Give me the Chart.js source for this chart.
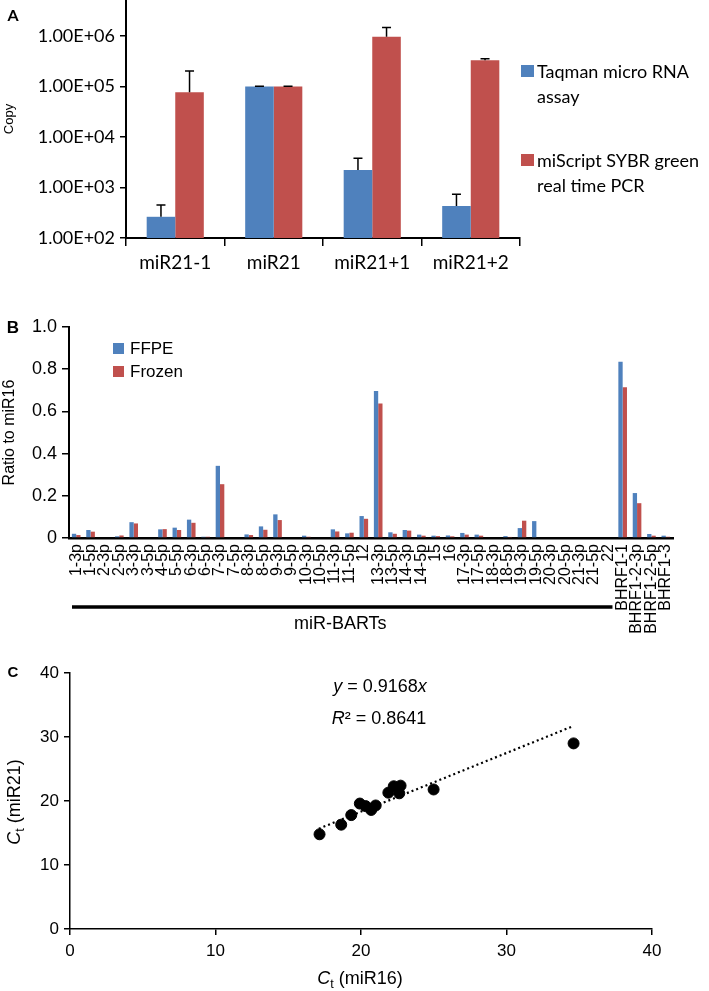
<!DOCTYPE html>
<html lang="en">
<head>
<meta charset="utf-8">
<title>miR21 copy number, miR-BART ratios and Ct correlation</title>
<script src="https://cdn.jsdelivr.net/npm/chart.js@4.4.1/dist/chart.umd.min.js"></script>
<style>
  html, body { margin: 0; background: #fff; }
  #page { position: relative; width: 709px; height: 991px; overflow: hidden;
          font-family: 'Liberation Sans', Arial, sans-serif; color: #000; }
  canvas { position: absolute; left: 0; }
  .t { position: absolute; white-space: nowrap; line-height: 1; transform: translate(-50%, -50%); }
  .l { position: absolute; white-space: nowrap; line-height: 1; transform: translateY(-50%); }
  .sw { position: absolute; }
  .tag { font-weight: bold; }
  .rot { transform: translate(-50%, -50%) rotate(-90deg); }
  sub { font-size: 0.7em; vertical-align: -0.3em; line-height: 0; }
</style>
</head>
<body>
<div id="page">
  <canvas id="chartA" width="709" height="290" style="top:0"></canvas>
  <canvas id="chartB" width="709" height="360" style="top:290px"></canvas>
  <canvas id="chartC" width="709" height="336" style="top:655px"></canvas>

  <!-- A: legend -->
  <div class="t tag" style="left:13px;top:15px;font-family:Lato;font-size:16px">A</div>
  <div class="sw" style="left:521px;top:65px;width:13px;height:12px;background:#4F81BD"></div>
  <div class="l" style="left:537px;top:71px;font-family:Lato;font-size:18px">Taqman micro RNA</div>
  <div class="l" style="left:537px;top:96px;font-family:Lato;font-size:18px">assay</div>
  <div class="sw" style="left:521px;top:154px;width:13px;height:12px;background:#C0504D"></div>
  <div class="l" style="left:537px;top:160px;font-family:Lato;font-size:18px">miScript SYBR green</div>
  <div class="l" style="left:537px;top:185px;font-family:Lato;font-size:18px">real time PCR</div>

  <!-- B: legend -->
  <div class="t tag" style="left:13px;top:327px;font-size:17px">B</div>
  <div class="sw" style="left:113px;top:343px;width:11px;height:11px;background:#4F81BD"></div>
  <div class="l" style="left:130px;top:348px;font-size:17px">FFPE</div>
  <div class="sw" style="left:113px;top:366px;width:11px;height:11px;background:#C0504D"></div>
  <div class="l" style="left:130px;top:371px;font-size:17px">Frozen</div>

  <!-- C: labels -->
  <div class="t tag" style="left:13px;top:671px;font-size:15px">C</div>
  <div class="t" style="left:380px;top:686px;font-size:18px"><i>y</i> = 0.9168<i>x</i></div>
  <div class="t" style="left:379px;top:718px;font-size:18px"><i>R</i>² = 0.8641</div>
  <div class="t rot" style="left:14px;top:802px;font-size:18px"><i>C</i><sub>t</sub> (miR21)</div>
  <div class="t" style="left:360px;top:978px;font-size:18px"><i>C</i><sub>t</sub> (miR16)</div>
</div>

<script>
Chart.defaults.animation = false;
Chart.defaults.color = '#000';
Chart.defaults.font.family = "'Liberation Sans', Arial, sans-serif";

const BLUE = '#4F81BD';
const RED = '#C0504D';

// Panel A: copy number of miR21 variants (log scale)
const constructs = ['miR21-1', 'miR21', 'miR21+1', 'miR21+2'];
const taqmanCopy = [263, 100000, 2220, 430];
const taqmanErr = [187, 1200, 1570, 303];
const sybrCopy = [76700, 100000, 968000, 330000];
const sybrErr = [126000, 1200, 512000, 25000];
const copyTicks = [1e2, 1e3, 1e4, 1e5, 1e6];

// Panel B: miR-BART / BHRF1 ratio to miR16
const bartLabels = [
  '1-3p', '1-5p', '2-3p', '2-5p', '3-3p', '3-5p', '4-5p', '5-5p', '6-3p', '6-5p',
  '7-3p', '7-5p', '8-3p', '8-5p', '9-3p', '9-5p', '10-3p', '10-5p', '11-3p', '11-5p',
  '12', '13-3p', '13-5p', '14-3p', '14-5p', '15', '16', '17-3p', '17-5p', '18-3p',
  '18-5p', '19-3p', '19-5p', '20-3p', '20-5p', '21-3p', '21-5p', '22',
  'BHRF1-1', 'BHRF1-2-3p', 'BHRF1-2-5p', 'BHRF1-3'
];
const ffpeRatio = [
  0.020, 0.038, 0, 0.008, 0.075, 0, 0.041, 0.049, 0.087, 0.006,
  0.342, 0, 0.017, 0.055, 0.112, 0, 0.011, 0, 0.041, 0.022,
  0.104, 0.697, 0.027, 0.038, 0.016, 0.011, 0.012, 0.024, 0.016, 0,
  0.009, 0.047, 0.080, 0, 0, 0, 0, 0,
  0.835, 0.213, 0.019, 0.011
];
const frozenRatio = [
  0.014, 0.030, 0, 0.012, 0.069, 0, 0.042, 0.038, 0.072, 0.006,
  0.255, 0, 0.014, 0.039, 0.085, 0, 0.006, 0, 0.031, 0.025,
  0.091, 0.638, 0.020, 0.035, 0.011, 0.009, 0.008, 0.016, 0.011, 0,
  0.005, 0.082, 0, 0, 0, 0, 0, 0,
  0.714, 0.165, 0.011, 0.006
];

// Panel C: Ct values
const ctMiR16 = [17.15, 18.64, 19.33, 19.92, 20.32, 20.70, 21.01, 21.88, 22.25, 22.72, 22.63, 24.99, 34.61];
const ctMiR21 = [14.8, 16.3, 17.8, 19.6, 19.2, 18.6, 19.3, 21.3, 22.3, 22.4, 21.2, 21.8, 29.0];
const fitSlope = 0.9168;
const fitRange = [17.1, 34.5];

// fixe la taille d'un axe pour caler la zone de tracé
function fixBox(size) {
  return s => {
    if (s.isHorizontal()) s.height = size; else s.width = size;
    s.paddingTop = s.paddingBottom = s.paddingLeft = s.paddingRight = 0;
  };
}

function sciLabel(v) {
  return Number(v).toExponential(2).toUpperCase().replace(/E([+-])(\d)$/, 'E$10$2');
}

const axisGrid = (len) => ({ drawOnChartArea: false, tickLength: len, color: '#000', lineWidth: 1.5 });

// barres d'erreur (uniquement vers le haut)
const errorBars = {
  id: 'errorBars',
  afterDatasetsDraw(chart) {
    const { ctx } = chart;
    const y = chart.scales.y;
    chart.data.datasets.forEach((ds, i) => {
      if (!ds.errors) return;
      chart.getDatasetMeta(i).data.forEach((bar, j) => {
        const top = y.getPixelForValue(ds.data[j] + ds.errors[j]);
        ctx.save();
        ctx.strokeStyle = '#000';
        ctx.lineWidth = 1.5;
        ctx.beginPath();
        ctx.moveTo(bar.x, bar.y);
        ctx.lineTo(bar.x, top);
        ctx.moveTo(bar.x - 4.5, top);
        ctx.lineTo(bar.x + 4.5, top);
        ctx.stroke();
        ctx.restore();
      });
    });
  }
};

new Chart(document.getElementById('chartA'), {
  type: 'bar',
  data: {
    labels: constructs,
    datasets: [
      { label: 'Taqman micro RNA assay', data: taqmanCopy, errors: taqmanErr, backgroundColor: BLUE },
      { label: 'miScript SYBR green real time PCR', data: sybrCopy, errors: sybrErr, backgroundColor: RED }
    ]
  },
  options: {
    responsive: false,
    layout: { padding: { top: 0, right: 189, bottom: 0, left: 0 } },
    datasets: { bar: { categoryPercentage: 0.58, barPercentage: 1 } },
    plugins: { legend: { display: false }, tooltip: { enabled: false } },
    scales: {
      x: {
        afterFit: fixBox(52),
        grid: { ...axisGrid(8), offset: true },
        border: { color: '#000', width: 2 },
        ticks: { font: { family: 'Lato', size: 19 }, padding: 5 }
      },
      y: {
        type: 'logarithmic',
        min: 100,
        max: 5.16e6,
        afterFit: fixBox(126),
        afterBuildTicks: s => { s.ticks = copyTicks.map(v => ({ value: v })); },
        grid: axisGrid(6),
        border: { color: '#000', width: 2 },
        ticks: { callback: v => sciLabel(v), font: { family: 'Lato', size: 18 }, padding: 5 },
        title: { display: true, text: 'Copy', font: { size: 13 }, padding: { top: 2, bottom: 0 } }
      }
    }
  },
  plugins: [errorBars]
});

// trait "miR-BARTs" sous les étiquettes
const bartBracket = {
  id: 'bartBracket',
  afterDraw(chart) {
    const { ctx, chartArea } = chart;
    const x = chart.scales.x;
    const n = bartLabels.filter(l => !l.startsWith('BHRF')).length;
    const half = (x.getPixelForValue(1) - x.getPixelForValue(0)) / 2;
    const x0 = x.getPixelForValue(0) - half + 3;
    const x1 = x.getPixelForValue(n - 1) + half - 3;
    const y = chartArea.bottom + 69;
    ctx.save();
    ctx.strokeStyle = '#000';
    ctx.lineWidth = 3.5;
    ctx.beginPath();
    ctx.moveTo(x0, y);
    ctx.lineTo(x1, y);
    ctx.stroke();
    ctx.fillStyle = '#000';
    ctx.font = "18px 'Liberation Sans', Arial, sans-serif";
    ctx.textAlign = 'center';
    ctx.textBaseline = 'middle';
    ctx.fillText('miR-BARTs', (x0 + x1) / 2 - 2, y + 17);
    ctx.restore();
  }
};

new Chart(document.getElementById('chartB'), {
  type: 'bar',
  data: {
    labels: bartLabels,
    datasets: [
      { label: 'FFPE', data: ffpeRatio, backgroundColor: BLUE },
      { label: 'Frozen', data: frozenRatio, backgroundColor: RED }
    ]
  },
  options: {
    responsive: false,
    layout: { padding: { top: 37, right: 36, bottom: 0, left: 0 } },
    datasets: { bar: { categoryPercentage: 0.6, barPercentage: 1 } },
    plugins: { legend: { display: false }, tooltip: { enabled: false } },
    scales: {
      x: {
        afterFit: fixBox(112),
        grid: { display: false, drawTicks: false },
        border: { color: '#000', width: 2.5 },
        ticks: { autoSkip: false, minRotation: 90, maxRotation: 90, font: { size: 16 }, padding: 6 }
      },
      y: {
        min: 0,
        max: 1,
        afterFit: fixBox(69),
        grid: axisGrid(7),
        border: { color: '#000', width: 2 },
        ticks: { stepSize: 0.2, font: { size: 18 }, padding: 5 },
        title: { display: true, text: 'Ratio to miR16', font: { size: 16 }, padding: { top: 0, bottom: 0 } }
      }
    }
  },
  plugins: [bartBracket]
});

new Chart(document.getElementById('chartC'), {
  type: 'scatter',
  data: {
    datasets: [
      {
        type: 'scatter',
        data: ctMiR16.map((x, i) => ({ x, y: ctMiR21[i] })),
        backgroundColor: '#000',
        borderColor: '#000',
        pointRadius: 5.5,
        order: 0
      },
      {
        type: 'line',
        data: fitRange.map(x => ({ x, y: fitSlope * x })),
        borderColor: '#000',
        borderWidth: 2.2,
        borderDash: [2, 3],
        pointRadius: 0,
        fill: false,
        order: 1
      }
    ]
  },
  options: {
    responsive: false,
    layout: { padding: { top: 18, right: 57, bottom: 0, left: 0 } },
    plugins: { legend: { display: false }, tooltip: { enabled: false } },
    scales: {
      x: {
        type: 'linear',
        min: 0,
        max: 40,
        afterFit: fixBox(62),
        grid: axisGrid(6),
        border: { color: '#000', width: 1.5 },
        ticks: { stepSize: 10, font: { size: 17 }, padding: 6 }
      },
      y: {
        min: 0,
        max: 40,
        afterFit: fixBox(70),
        grid: axisGrid(6),
        border: { color: '#000', width: 1.5 },
        ticks: { stepSize: 10, font: { size: 17 }, padding: 5 }
      }
    }
  }
});
</script>
</body>
</html>
